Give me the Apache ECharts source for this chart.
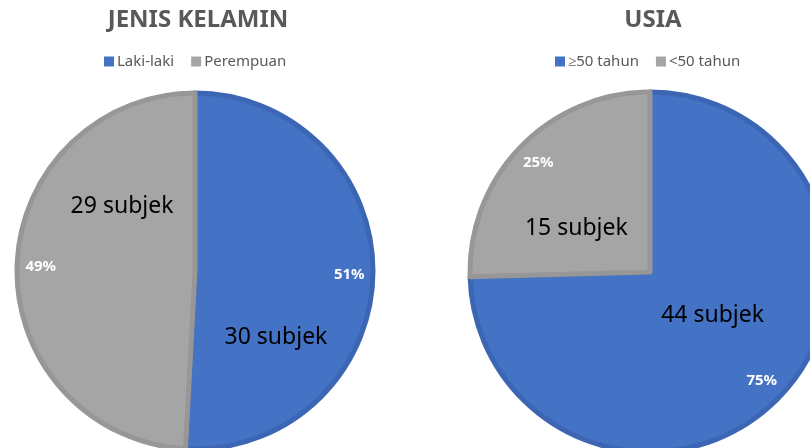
<!DOCTYPE html>
<html>
<head>
<meta charset="utf-8">
<script src="https://cdn.jsdelivr.net/npm/echarts@6/dist/echarts.min.js"></script>
<style>
html, body { margin: 0; padding: 0; background: #fff; }
#chart { width: 810px; height: 448px; }
</style>
</head>
<body>
<div id="chart"></div>
<script>
// data
var genderNames = ['Laki-laki', 'Perempuan'];
var genderValues = [30, 29];
var ageNames = ['≥50 tahun', '<50 tahun'];
var ageValues = [44, 15];

// label nudges (px) for the "n subjek" labels, per slice
var genderLabelShift = [[-11, 64], [19, -62]];
var ageLabelShift = [[-4, -21], [-7, 21]];

var fills = ['#4472C4', '#A5A5A5'];
var borders = ['#3C66B4', '#979797'];

function toData(names, values) {
    var out = [];
    for (var i = 0; i < names.length; i++) {
        out.push({
            name: names[i],
            value: values[i],
            itemStyle: { color: fills[i], borderColor: borders[i] }
        });
    }
    return out;
}

function countSeries(names, values, center, r, shift) {
    return {
        type: 'pie',
        center: center,
        radius: r,
        startAngle: 90,
        clockwise: true,
        animation: false,
        itemStyle: { borderWidth: 5 },
        emphasis: { disabled: true },
        label: {
            show: true,
            position: 'inside',
            formatter: '{c} subjek',
            color: '#000',
            fontSize: 23,
            fontFamily: 'Noto Sans',
            textBorderWidth: 0
        },
        labelLine: { show: false },
        labelLayout: function (p) {
            return { dx: shift[p.dataIndex][0], dy: shift[p.dataIndex][1] };
        },
        data: toData(names, values)
    };
}

// transparent ring only used to place the percentage labels near the rim
function pctSeries(names, values, center, r) {
    return {
        type: 'pie',
        center: center,
        radius: [r * 0.7, r],
        startAngle: 90,
        silent: true,
        animation: false,
        itemStyle: { color: 'transparent', borderWidth: 0 },
        label: {
            show: true,
            position: 'inside',
            formatter: function (p) { return Math.round(p.percent) + '%'; },
            color: '#fff',
            fontSize: 15,
            fontWeight: 'bold',
            fontFamily: 'Noto Sans',
            textBorderWidth: 0
        },
        labelLine: { show: false },
        data: names.map(function (n, i) { return { name: n, value: values[i] }; })
    };
}

var legendText = { color: '#595959', fontSize: 15, fontFamily: 'Noto Sans', padding: [0, 0, 0, -2] };

var chart = echarts.init(document.getElementById('chart'));

var option = {
    backgroundColor: '#fff',
    title: [
        {
            text: 'JENIS KELAMIN',
            left: 193, top: 3, textAlign: 'center',
            textStyle: { color: '#595959', fontSize: 24, fontWeight: 'bold', fontFamily: 'Noto Sans' }
        },
        {
            text: 'USIA',
            left: 648, top: 3, textAlign: 'center',
            textStyle: { color: '#595959', fontSize: 24, fontWeight: 'bold', fontFamily: 'Noto Sans' }
        }
    ],
    legend: [
        {
            data: genderNames,
            left: 104, top: 54, padding: 0,
            icon: 'rect', itemWidth: 10, itemHeight: 10, itemGap: 17,
            itemStyle: { borderWidth: 0 },
            textStyle: legendText
        },
        {
            data: ageNames,
            left: 555, top: 54, padding: 0,
            icon: 'rect', itemWidth: 10, itemHeight: 10, itemGap: 17,
            itemStyle: { borderWidth: 0 },
            textStyle: legendText
        }
    ],
    series: [
        countSeries(genderNames, genderValues, [195, 271], 178, genderLabelShift),
        pctSeries(genderNames, genderValues, [195, 271], 178),
        countSeries(ageNames, ageValues, [650, 272], 180, ageLabelShift),
        pctSeries(ageNames, ageValues, [650, 272], 180)
    ]
};

chart.setOption(option);
</script>
</body>
</html>
